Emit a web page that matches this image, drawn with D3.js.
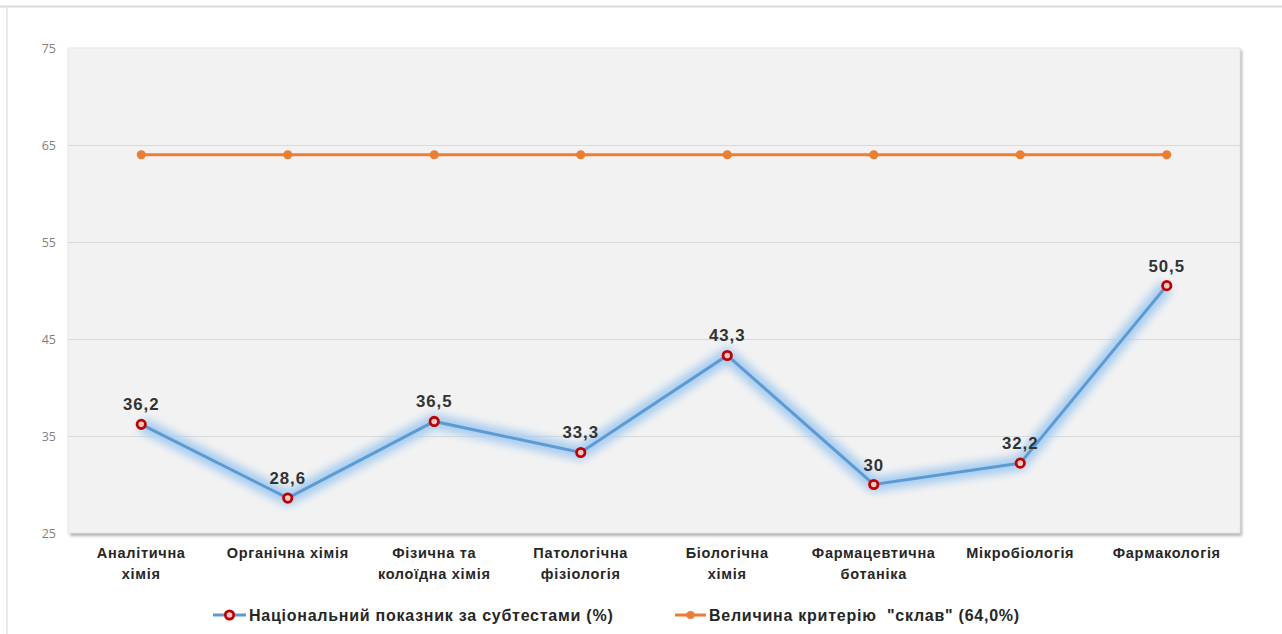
<!DOCTYPE html>
<html><head><meta charset="utf-8">
<script src="https://cdn.jsdelivr.net/npm/d3@7"></script>
<style>body{margin:0;background:#fff;}svg{display:block;}</style>
</head><body>
<svg id="c" width="1282" height="634"></svg>
<script>
const categories = [["Аналітична","хімія"],["Органічна хімія"],["Фізична та","колоїдна хімія"],["Патологічна","фізіологія"],["Біологічна","хімія"],["Фармацевтична","ботаніка"],["Мікробіологія"],["Фармакологія"]];
const national = [36.2, 28.6, 36.5, 33.3, 43.3, 30, 32.2, 50.5];
const nationalLabels = ["36,2","28,6","36,5","33,3","43,3","30","32,2","50,5"];
const criterion = [64, 64, 64, 64, 64, 64, 64, 64];
const yTicks = [25, 35, 45, 55, 65, 75];
const legendNames = ["Національний показник за субтестами (%)", "Величина критерію  \"склав\" (64,0%)"];

const svg = d3.select("#c");
const defs = svg.append("defs");
const gb = defs.append("filter").attr("id","glowB").attr("x","-20%").attr("y","-50%").attr("width","140%").attr("height","200%");
gb.append("feGaussianBlur").attr("stdDeviation",4);
const go = defs.append("filter").attr("id","glowO").attr("x","-20%").attr("y","-50%").attr("width","140%").attr("height","200%");
go.append("feGaussianBlur").attr("stdDeviation",3);
const sh = defs.append("filter").attr("id","shadow").attr("x","-5%").attr("y","-5%").attr("width","110%").attr("height","110%");
sh.append("feGaussianBlur").attr("stdDeviation",1.5);

// outer frame
svg.append("line").attr("x1",0).attr("x2",1282).attr("y1",6.5).attr("y2",6.5).attr("stroke","#d9d9d9").attr("stroke-width",2);
svg.append("line").attr("x1",7).attr("x2",7).attr("y1",6).attr("y2",634).attr("stroke","#e3e3e3").attr("stroke-width",1.5);

const L = 68, R = 1240, T = 48, B = 533;
const x = d3.scaleBand().domain(d3.range(categories.length)).range([L, R]);
const y = d3.scaleLinear().domain([25, 75]).range([B, T]);
const cx = i => x(i) + x.bandwidth()/2;

// plot area with shadow
svg.append("rect").attr("x",L+2).attr("y",T+2).attr("width",R-L).attr("height",B-T+1).attr("fill","#b0b0b0").attr("filter","url(#shadow)");
svg.append("rect").attr("x",L).attr("y",T).attr("width",R-L).attr("height",B-T).attr("fill","#f2f2f2").attr("stroke","#e6e6e6");

// grid
svg.append("g").selectAll("line").data(yTicks.filter(t=>t>25 && t<75)).join("line")
  .attr("x1",L).attr("x2",R).attr("y1",d=>y(d)+0.5).attr("y2",d=>y(d)+0.5).attr("stroke","#d9d9d9").attr("stroke-width",1);

// y axis
const yAxis = svg.append("g").attr("transform",`translate(${L-12},0)`).call(d3.axisLeft(y).tickValues(yTicks).tickSize(0).tickPadding(0));
yAxis.select(".domain").remove();
yAxis.selectAll("text").attr("font-family","Open Sans, sans-serif").attr("font-size",12.5).attr("fill","#7f7f7f");

const bold = sel => sel.attr("font-family","Liberation Sans, Arial, sans-serif").attr("font-weight","bold");

// x labels
const xl = svg.append("g");
categories.forEach((lines,i)=>{
  const t = xl.append("text").attr("x",cx(i)).attr("y",558).attr("text-anchor","middle")
    .attr("font-size",14.5).attr("letter-spacing",0.7).attr("fill","#262626").call(bold);
  lines.forEach((ln,j)=>t.append("tspan").attr("x",cx(i)).attr("dy",j===0?0:21).text(ln));
});

const line = d3.line().x((d,i)=>cx(i)).y(d=>y(d));

// orange criterion
svg.append("path").datum(criterion).attr("d",line).attr("fill","none").attr("stroke","#f8c9a4").attr("stroke-width",9).attr("opacity",0.8).attr("filter","url(#glowO)");
svg.append("path").datum(criterion).attr("d",line).attr("fill","none").attr("stroke","#ed7d31").attr("stroke-width",3);
svg.append("g").selectAll("circle").data(criterion).join("circle")
  .attr("cx",(d,i)=>cx(i)).attr("cy",d=>y(d)).attr("r",4.5).attr("fill","#ed7d31");

// blue national
svg.append("path").datum(national).attr("d",line).attr("fill","none").attr("stroke","#a9cdef").attr("stroke-width",15).attr("filter","url(#glowB)");
svg.append("path").datum(national).attr("d",line).attr("fill","none").attr("stroke","#5b9bd5").attr("stroke-width",3);
svg.append("g").selectAll("circle").data(national).join("circle")
  .attr("cx",(d,i)=>cx(i)).attr("cy",d=>y(d)).attr("r",4.2).attr("fill","#f0c8c8").attr("stroke","#c00000").attr("stroke-width",2.8);

// data labels
svg.append("g").selectAll("text").data(national).join("text")
  .attr("x",(d,i)=>cx(i)).attr("y",d=>y(d)-14).attr("text-anchor","middle")
  .attr("font-size",16.8).attr("letter-spacing",1).attr("fill","#333").call(bold)
  .text((d,i)=>nationalLabels[i]);

// legend
const lg = svg.append("g");
const ly = 615;
lg.append("line").attr("x1",213).attr("x2",246).attr("y1",ly).attr("y2",ly).attr("stroke","#5b9bd5").attr("stroke-width",3);
lg.append("circle").attr("cx",229.5).attr("cy",ly).attr("r",4.2).attr("fill","#f0c8c8").attr("stroke","#c00000").attr("stroke-width",2.8);
lg.append("text").attr("x",249).attr("y",ly+5.5).text(legendNames[0])
  .attr("font-size",16).attr("letter-spacing",0.75).attr("fill","#262626").call(bold);
lg.append("line").attr("x1",675).attr("x2",706).attr("y1",ly).attr("y2",ly).attr("stroke","#ed7d31").attr("stroke-width",3);
lg.append("circle").attr("cx",690.5).attr("cy",ly).attr("r",4).attr("fill","#ed7d31");
lg.append("text").attr("x",709).attr("y",ly+5.5).attr("xml:space","preserve").text(legendNames[1])
  .attr("font-size",16).attr("letter-spacing",0.75).attr("fill","#262626").call(bold);
</script>
</body></html>
